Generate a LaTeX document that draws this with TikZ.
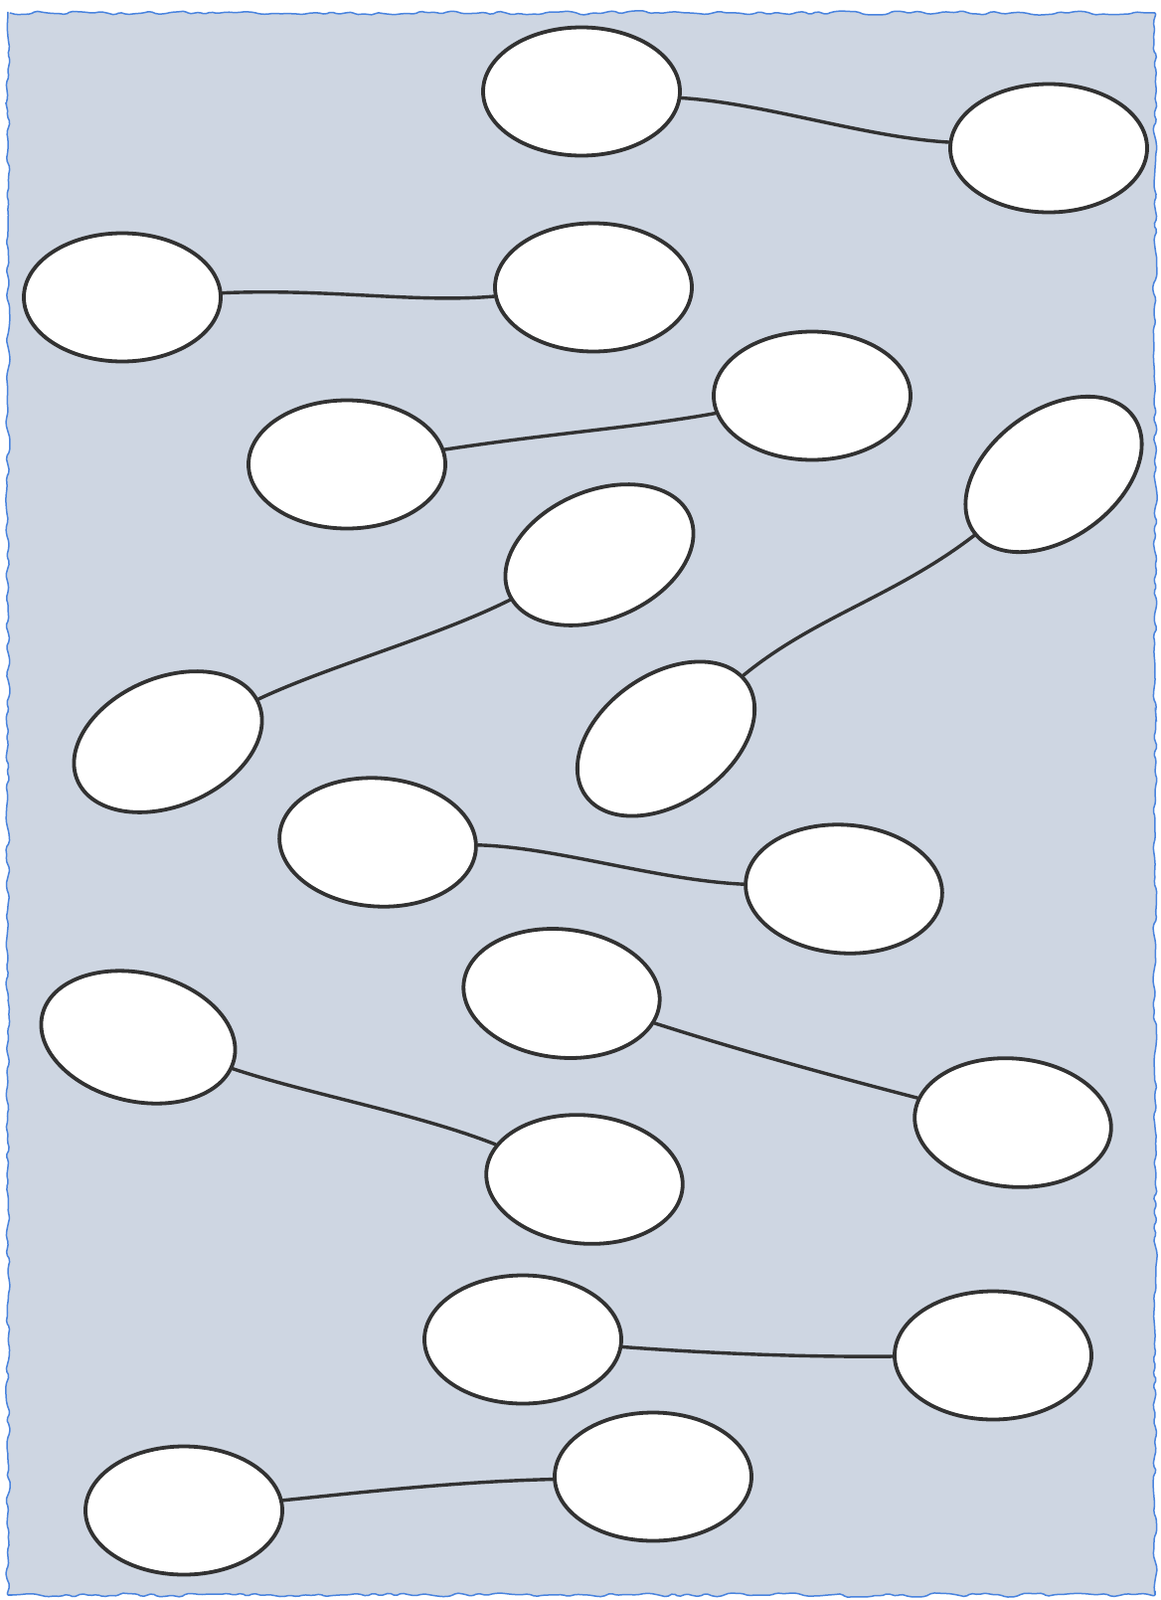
\documentclass[tikz,border=0pt]{standalone}
\usetikzlibrary{shapes.geometric,decorations.pathmorphing}
\definecolor{bgwater}{RGB}{206,214,226}
\definecolor{edgeblue}{RGB}{74,132,222}
\definecolor{inkgray}{RGB}{50,50,50}
\tikzset{
  bubble/.style={ellipse, draw=inkgray, line width=3.8bp, fill=white,
    minimum width=198bp, minimum height=129bp, inner sep=0pt},
  link/.style={draw=inkgray, line width=3.4bp, line cap=round}
}
\begin{document}
\begin{tikzpicture}[x=1bp,y=1bp]
\useasboundingbox (0,0) rectangle (1167,-1609);
\fill[white] (0,0) rectangle (1167,-1609);
\draw[edgeblue, line width=1.5bp, fill=bgwater, rounded corners=2bp,
  decorate, decoration={random steps, segment length=7bp, amplitude=2.2bp}]
  (8,-13) -- (1162,-13) -- (1162,-1604) -- (8,-1604) -- cycle;

% nodes
\node[bubble] (n1) at (585,-92) {};
\node[bubble] (n2) at (1055,-149) {};
\node[bubble] (n3) at (123,-299) {};
\node[bubble] (n4) at (597,-289) {};
\node[bubble] (n5) at (817,-398) {};
\node[bubble] (n6) at (349,-467) {};
\node[bubble, rotate=36] (n7) at (1060,-477) {};
\node[bubble, rotate=23] (n8) at (603,-558) {};
\node[bubble, rotate=23] (n9) at (169,-746) {};
\node[bubble, rotate=35] (n10) at (670,-743) {};
\node[bubble, rotate=-4] (n11) at (380,-847) {};
\node[bubble, rotate=-4] (n12) at (849,-894) {};
\node[bubble, rotate=-6] (n13) at (565,-999) {};
\node[bubble, rotate=-13] (n14) at (139,-1043) {};
\node[bubble, rotate=-5] (n15) at (1019,-1129) {};
\node[bubble, rotate=-5] (n16) at (588,-1186) {};
\node[bubble] (n17) at (526,-1347) {};
\node[bubble] (n18) at (999,-1363) {};
\node[bubble] (n19) at (657,-1485) {};
\node[bubble] (n20) at (185,-1519) {};

% connectors
\draw[link] (n1) .. controls (770,-104) and (870,-138) .. (n2);
\draw[link] (n3) .. controls (330,-290) and (420,-305) .. (n4);
\draw[link] (n6) .. controls (560,-435) and (640,-430) .. (n5);
\draw[link] (n7) .. controls (900,-600) and (820,-620) .. (n10);
\draw[link] (n9) .. controls (330,-670) and (440,-640) .. (n8);
\draw[link] (n11) .. controls (560,-852) and (660,-885) .. (n12);
\draw[link] (n13) .. controls (740,-1055) and (830,-1080) .. (n15);
\draw[link] (n14) .. controls (310,-1100) and (420,-1120) .. (n16);
\draw[link] (n17) .. controls (700,-1360) and (800,-1365) .. (n18);
\draw[link] (n20) .. controls (370,-1500) and (460,-1490) .. (n19);
\end{tikzpicture}
\end{document}
